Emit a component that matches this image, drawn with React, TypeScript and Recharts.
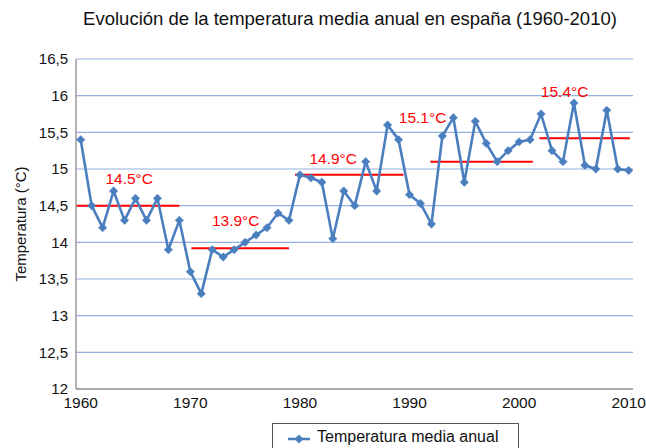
import React from "react";
import { CartesianGrid, Legend, Line, LineChart, ReferenceLine, XAxis, YAxis } from "recharts";

const years = [
  1960, 1961, 1962, 1963, 1964, 1965, 1966, 1967, 1968, 1969,
  1970, 1971, 1972, 1973, 1974, 1975, 1976, 1977, 1978, 1979,
  1980, 1981, 1982, 1983, 1984, 1985, 1986, 1987, 1988, 1989,
  1990, 1991, 1992, 1993, 1994, 1995, 1996, 1997, 1998, 1999,
  2000, 2001, 2002, 2003, 2004, 2005, 2006, 2007, 2008, 2009, 2010,
];

const temps = [
  15.4, 14.5, 14.2, 14.7, 14.3, 14.6, 14.3, 14.6, 13.9, 14.3,
  13.6, 13.3, 13.9, 13.8, 13.9, 14.0, 14.1, 14.2, 14.4, 14.3,
  14.92, 14.88, 14.82, 14.05, 14.7, 14.5, 15.1, 14.7, 15.6, 15.4,
  14.65, 14.53, 14.25, 15.45, 15.7, 14.82, 15.65, 15.35, 15.1, 15.25,
  15.37, 15.4, 15.75, 15.25, 15.1, 15.9, 15.05, 15.0, 15.8, 15.0, 14.98,
];

// period averages (red segments)
const periodStart = [1959.57, 1970.1, 1979.55, 1991.9, 2001.85];
const periodEnd = [1969.0, 1979.0, 1989.45, 2001.25, 2010.1];
const periodMean = [14.5, 13.92, 14.92, 15.1, 15.42];
const periodLabels = ["14.5°C", "13.9°C", "14.9°C", "15.1°C", "15.4°C"];

const xTicks = [1960, 1970, 1980, 1990, 2000, 2010];
const yTicks = [12, 12.5, 13, 13.5, 14, 14.5, 15, 15.5, 16, 16.5];

const data = years.map((year, i) => ({ year, temp: temps[i] }));

const FONT = "'Liberation Sans', Arial, Helvetica, sans-serif";
const BLUE = "#4a7ebf";
const RED = "#ff0000";

// where each period label sits relative to the middle of its segment
const labelShift = [
  { dx: 1.5, dy: -27 },
  { dx: -4.5, dy: -27.5 },
  { dx: -16, dy: -16 },
  { dx: -59, dy: -44 },
  { dx: -20, dy: -47 },
];

function Diamond(props: any) {
  const { cx, cy } = props;
  if (cx == null || cy == null) return null;
  const r = 4.2;
  return (
    <path
      d={`M${cx},${cy - r}L${cx + r},${cy}L${cx},${cy + r}L${cx - r},${cy}Z`}
      fill={BLUE}
      stroke={BLUE}
      strokeWidth={0.5}
    />
  );
}

function periodLabel(text: string, dx: number, dy: number) {
  return (props: any) => {
    const vb = props.viewBox || {};
    const x = (vb.x ?? 0) + (vb.width ?? 0) / 2 + dx;
    const y = (vb.y ?? 0) + dy;
    return (
      <text x={x} y={y} textAnchor="middle" dominantBaseline="central" fill={RED} fontSize={15.5} fontFamily={FONT}>
        {text}
      </text>
    );
  };
}

function YTitle(props: any) {
  const vb = props.viewBox || { x: 0, y: 0, height: 0 };
  const x = vb.x + 20;
  const y = vb.y + vb.height / 2;
  return (
    <text
      x={x}
      y={y}
      transform={`rotate(-90, ${x}, ${y})`}
      textAnchor="middle"
      dominantBaseline="central"
      fontSize={15}
      fontFamily={FONT}
      fill="#111"
    >
      Temperatura (°C)
    </text>
  );
}

function LegendBox() {
  return (
    <div style={{ position: "relative", height: 25, overflow: "hidden", fontFamily: FONT }}>
      <div
        style={{
          position: "absolute",
          left: 272,
          top: 0,
          width: 247,
          height: 40,
          boxSizing: "border-box",
          border: "1.5px solid #555",
          background: "#fff",
        }}
      >
        <svg width={26} height={14} style={{ position: "absolute", left: 14, top: 8 }}>
          <line x1={1} y1={7} x2={23} y2={7} stroke={BLUE} strokeWidth={2.5} />
          <Diamond cx={12} cy={7} />
        </svg>
        <span style={{ position: "absolute", left: 44, top: 4, fontSize: 16, color: "#111", whiteSpace: "nowrap" }}>
          Temperatura media anual
        </span>
      </div>
    </div>
  );
}

export default function App() {
  return (
    <div style={{ position: "absolute", left: 0, top: 0, width: 646, height: 448, background: "#fff", overflow: "hidden" }}>
      <div
        style={{
          position: "absolute",
          top: 8,
          left: 0,
          width: 700,
          textAlign: "center",
          fontFamily: FONT,
          fontSize: 18.5,
          color: "#111",
          whiteSpace: "nowrap",
        }}
      >
        Evolución de la temperatura media anual en españa (1960-2010)
      </div>
      <LineChart width={646} height={448} data={data} margin={{ top: 59, right: 13, bottom: 0, left: 0 }}>
        <CartesianGrid vertical={false} stroke="#93b1dc" strokeWidth={1.2} />
        <XAxis
          dataKey="year"
          type="number"
          domain={[1959.57, 2010.39]}
          ticks={xTicks}
          allowDataOverflow
          tickLine={false}
          axisLine={{ stroke: "#9a9a9a", strokeWidth: 1.5 }}
          height={34}
          tick={{ fill: "#111", fontSize: 15.5, fontFamily: FONT }}
        />
        <YAxis
          type="number"
          domain={[12, 16.5]}
          ticks={yTicks}
          allowDataOverflow
          width={76}
          tickLine={false}
          axisLine={{ stroke: "#9a9a9a", strokeWidth: 1.5 }}
          tickFormatter={(v: number) => String(v).replace(".", ",")}
          tick={{ fill: "#111", fontSize: 15, fontFamily: FONT }}
          label={<YTitle />}
        />
        {periodMean.map((m, i) => (
          <ReferenceLine
            key={i}
            segment={[
              { x: periodStart[i], y: m },
              { x: periodEnd[i], y: m },
            ]}
            stroke={RED}
            strokeWidth={2}
            ifOverflow="visible"
            label={periodLabel(periodLabels[i], labelShift[i].dx, labelShift[i].dy)}
          />
        ))}
        <Line
          type="linear"
          dataKey="temp"
          name="Temperatura media anual"
          stroke={BLUE}
          strokeWidth={2.6}
          dot={(p: any) => <Diamond key={p.index} cx={p.cx} cy={p.cy} />}
          activeDot={false}
          isAnimationActive={false}
        />
        <Legend verticalAlign="bottom" wrapperStyle={{ left: 0, width: 646 }} content={() => <LegendBox />} />
      </LineChart>
    </div>
  );
}
